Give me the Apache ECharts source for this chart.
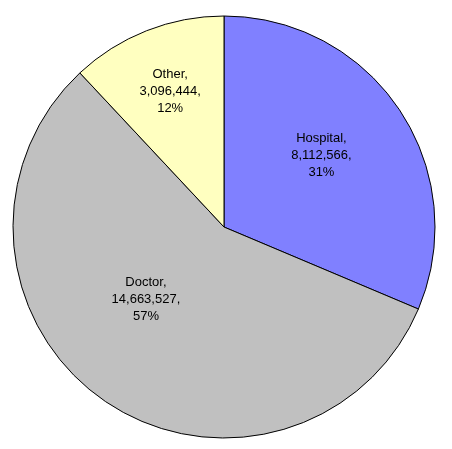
<!DOCTYPE html>
<html>
<head>
<meta charset="utf-8">
<style>
html,body{margin:0;padding:0;background:#fff;}
#chart{width:452px;height:449px;}
</style>
<script src="https://cdn.jsdelivr.net/npm/echarts@6/dist/echarts.min.js"></script>
</head>
<body>
<div id="chart"></div>
<script>
var categories = ['Hospital', 'Doctor', 'Other'];
var values = [8112566, 14663527, 3096444];
var colors = ['#8080FF', '#C0C0C0', '#FFFFC0'];
var labelShift = [[7, -12], [-16, -17], [-14, -35]];

var chart = echarts.init(document.getElementById('chart'));
var data = categories.map(function (c, i) {
  return { name: c, value: values[i], itemStyle: { color: colors[i] } };
});
chart.setOption({
  animation: false,
  backgroundColor: '#ffffff',
  series: [{
    type: 'pie',
    center: [224, 227],
    radius: [0, 211],
    startAngle: 90,
    clockwise: true,
    data: data,
    itemStyle: { borderColor: '#000', borderWidth: 1 },
    label: {
      show: true,
      position: 'inside',
      color: '#000',
      fontFamily: 'Liberation Sans, Arial, sans-serif',
      fontSize: 13,
      lineHeight: 17,
      align: 'center',
      formatter: function (p) {
        return p.name + ',\n' + p.value.toLocaleString('en-US') + ',\n' + Math.round(p.percent) + '%';
      }
    },
    labelLine: { show: false },
    labelLayout: function (p) {
      var s = labelShift[p.dataIndex];
      return { dx: s[0], dy: s[1] };
    },
    emphasis: { disabled: true }
  }]
});
</script>
</body>
</html>
